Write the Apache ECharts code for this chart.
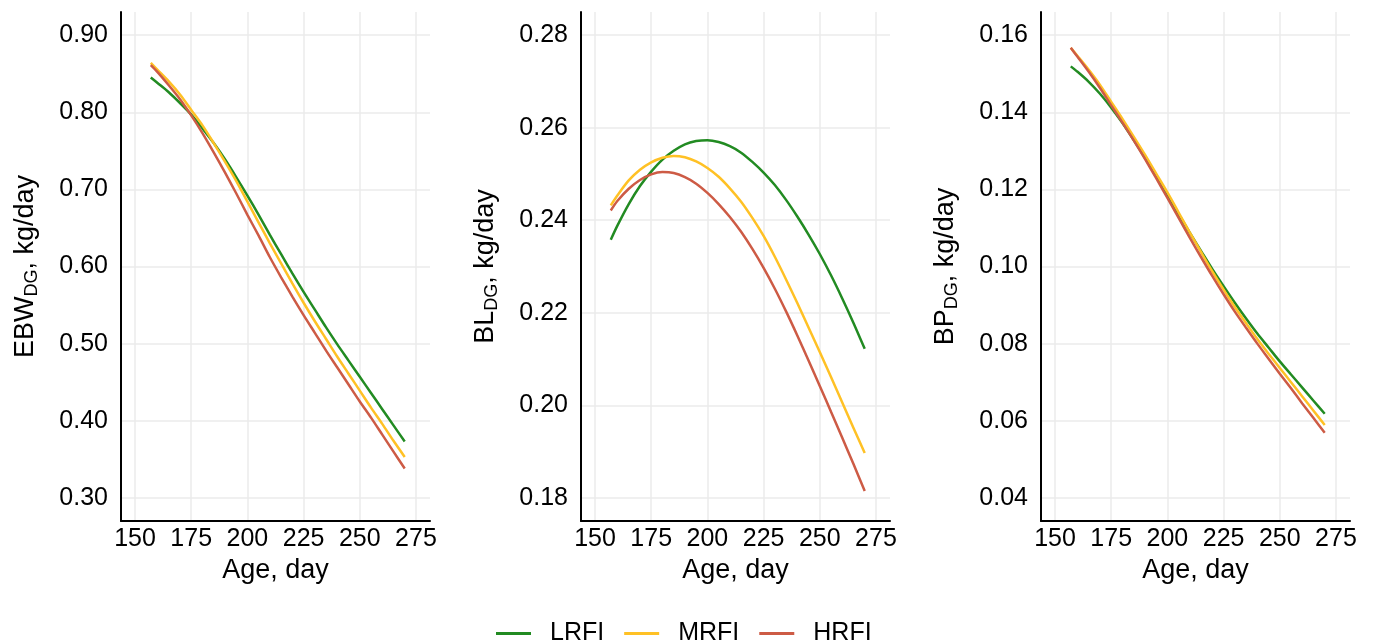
<!DOCTYPE html>
<html><head><meta charset="utf-8">
<script src="https://cdn.jsdelivr.net/npm/echarts@6/dist/echarts.min.js"></script>
<style>html,body{margin:0;padding:0;background:#fff}#c{width:1376px;height:644px}</style>
</head><body><div id="c"></div>
<script>
// ---- data ----
const ages = [157,160,165,170,175,180,185,190,195,200,205,210,215,220,225,230,235,240,245,250,255,260,265,270];
const groups = ['LRFI','MRFI','HRFI'];
const colors = ['#228B22','#FFC125','#CD5B45'];
const xTicks = [150,175,200,225,250,275];

const ebwLRFI = [0.845,0.838,0.826,0.812,0.797,0.779,0.760,0.739,0.716,0.692,0.667,0.641,0.616,0.591,0.567,0.544,0.521,0.499,0.478,0.457,0.436,0.415,0.394,0.373];
const ebwMRFI = [0.864,0.855,0.840,0.823,0.803,0.783,0.760,0.736,0.711,0.684,0.657,0.630,0.604,0.578,0.553,0.529,0.506,0.483,0.461,0.439,0.417,0.396,0.374,0.353];
const ebwHRFI = [0.861,0.852,0.835,0.817,0.796,0.773,0.748,0.722,0.695,0.667,0.640,0.612,0.586,0.561,0.537,0.514,0.491,0.469,0.447,0.425,0.404,0.382,0.360,0.338];
const ebwTicks = [0.30,0.40,0.50,0.60,0.70,0.80,0.90];

const blLRFI = [0.2358,0.2389,0.2435,0.2474,0.2505,0.2531,0.2550,0.2564,0.2571,0.2573,0.2569,0.2560,0.2546,0.2526,0.2503,0.2476,0.2444,0.2408,0.2369,0.2327,0.2281,0.2231,0.2178,0.2122];
const blMRFI = [0.2432,0.2454,0.2486,0.2509,0.2525,0.2535,0.2539,0.2536,0.2527,0.2513,0.2494,0.2469,0.2440,0.2405,0.2366,0.2321,0.2272,0.2221,0.2168,0.2115,0.2061,0.2006,0.1951,0.1897];
const blHRFI = [0.2421,0.2442,0.2468,0.2487,0.2499,0.2504,0.2502,0.2493,0.2479,0.2459,0.2435,0.2407,0.2375,0.2338,0.2297,0.2252,0.2203,0.2151,0.2097,0.2042,0.1986,0.1930,0.1873,0.1815];
const blTicks = [0.18,0.20,0.22,0.24,0.26,0.28];

const bpLRFI = [0.1519,0.1505,0.1479,0.1448,0.1412,0.1372,0.1328,0.1282,0.1234,0.1185,0.1136,0.1087,0.1040,0.0993,0.0949,0.0906,0.0865,0.0826,0.0790,0.0754,0.0720,0.0686,0.0652,0.0618];
const bpMRFI = [0.1567,0.1546,0.1510,0.1471,0.1427,0.1383,0.1337,0.1290,0.1241,0.1192,0.1140,0.1088,0.1037,0.0987,0.0940,0.0895,0.0853,0.0812,0.0774,0.0737,0.0700,0.0663,0.0626,0.0589];
const bpHRFI = [0.1567,0.1544,0.1505,0.1463,0.1418,0.1373,0.1327,0.1279,0.1229,0.1178,0.1126,0.1074,0.1024,0.0975,0.0928,0.0883,0.0841,0.0800,0.0761,0.0722,0.0684,0.0645,0.0607,0.0569];
const bpTicks = [0.04,0.06,0.08,0.10,0.12,0.14,0.16];

// ---- chart ----
const FONT = "'Liberation Sans', Arial, sans-serif";
const panels = [
  {pre:'EBW', vals:[ebwLRFI,ebwMRFI,ebwHRFI], ticks:ebwTicks, min:0.27, max:0.93, left:121},
  {pre:'BL',  vals:[blLRFI,blMRFI,blHRFI],   ticks:blTicks,  min:0.175, max:0.285, left:581},
  {pre:'BP',  vals:[bpLRFI,bpMRFI,bpHRFI],   ticks:bpTicks,  min:0.034, max:0.166, left:1041}
];
const gridLine = {show:true, lineStyle:{color:'#EBEBEB', width:1.5}};
const grid=[], xAxis=[], yAxis=[], series=[];
panels.forEach((p,i)=>{
  grid.push({left:p.left, top:12, width:309, height:509, containLabel:false});
  xAxis.push({
    type:'value', gridIndex:i, min:143.75, max:281.25,
    axisLine:{show:true, onZero:false, lineStyle:{color:'#000', width:2}},
    axisTick:{show:false, customValues:xTicks},
    axisLabel:{customValues:xTicks, color:'#000', fontSize:25, fontFamily:FONT, margin:6},
    splitLine:gridLine,
    name:'Age, day', nameLocation:'middle', nameGap:33,
    nameTextStyle:{color:'#000', fontSize:27, fontFamily:FONT}
  });
  yAxis.push({
    type:'value', gridIndex:i, min:p.min, max:p.max,
    axisLine:{show:true, onZero:false, lineStyle:{color:'#000', width:2}},
    axisTick:{show:false, customValues:p.ticks},
    axisLabel:{customValues:p.ticks, color:'#000', fontSize:25, fontFamily:FONT, margin:13,
      formatter:v=>v.toFixed(2)},
    splitLine:gridLine,
    name:'{m|'+p.pre+'}{s|DG}{m|, kg/day}', nameLocation:'middle', nameGap:80,
    nameTextStyle:{color:'#000', fontFamily:FONT,
      rich:{m:{fontSize:27, lineHeight:31, fontFamily:FONT, color:'#000'},
            s:{fontSize:18, lineHeight:18, verticalAlign:'bottom', fontFamily:FONT, color:'#000'}}}
  });
  groups.forEach((g,k)=>{
    series.push({
      type:'line', name:g, xAxisIndex:i, yAxisIndex:i, smooth:0.3,
      symbol:'none', color:colors[k],
      lineStyle:{width:2.5, color:colors[k]},
      data: ages.map((a,j)=>[a, p.vals[k][j]])
    });
  });
});

const chart = echarts.init(document.getElementById('c'), null, {renderer:'canvas'});
chart.setOption({
  backgroundColor:'#fff',
  animation:false,
  grid, xAxis, yAxis, series,
  legend:{
    data:groups, left:491, top:616, itemWidth:35, itemHeight:3, itemGap:20,
    icon:'rect',
    textStyle:{color:'#000', fontSize:25, fontFamily:FONT, padding:[0,0,0,14]}
  }
});
</script>
</body></html>
